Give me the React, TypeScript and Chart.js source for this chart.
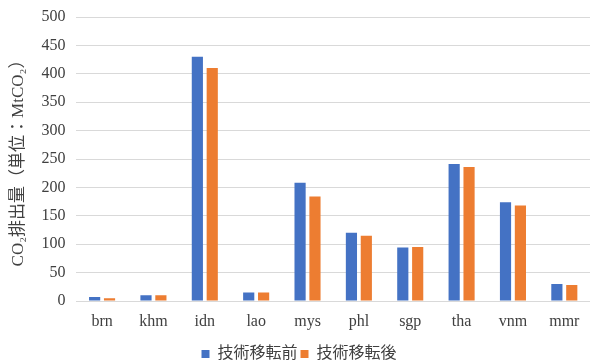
import React, { useEffect, useRef } from "react";
import { Chart, registerables } from "chart.js";

Chart.register(...registerables);

const categories = ["brn", "khm", "idn", "lao", "mys", "phl", "sgp", "tha", "vnm", "mmr"];
const beforeTransfer = [7, 10, 430, 15, 208, 120, 94, 241, 174, 30];
const afterTransfer = [5, 10, 410, 15, 184, 115, 95, 236, 168, 28];
const seriesNames = ["技術移転前", "技術移転後"];
const yTitle = "CO₂排出量（単位：MtCO₂）";

const FONT = "'Liberation Serif', 'Times New Roman', 'Noto Sans CJK JP', serif";

export default function App() {
  const ref = useRef<HTMLCanvasElement | null>(null);
  useEffect(() => {
    document.body.style.margin = "0";
    const ctx = ref.current!;
    const chart = new Chart(ctx, {
      type: "bar",
      data: {
        labels: categories,
        datasets: [
          {
            label: seriesNames[0],
            data: beforeTransfer,
            backgroundColor: "#4472C4",
            barPercentage: 0.75,
            categoryPercentage: 0.58,
          },
          {
            label: seriesNames[1],
            data: afterTransfer,
            backgroundColor: "#ED7D31",
            barPercentage: 0.75,
            categoryPercentage: 0.58,
          },
        ],
      },
      options: {
        animation: false,
        responsive: false,
        maintainAspectRatio: false,
        layout: { padding: { top: 17, right: 5, left: 8, bottom: -9 } },
        plugins: {
          tooltip: { enabled: false },
          legend: {
            position: "bottom",
            labels: {
              boxWidth: 8,
              boxHeight: 8,
              padding: 3,
              color: "#404040",
              font: { family: FONT, size: 16 },
            },
          },
        },
        scales: {
          x: {
            grid: { display: false, drawTicks: false },
            border: { display: false },
            ticks: { color: "#404040", font: { family: FONT, size: 16 }, padding: 11 },
            afterFit: (scale: any) => {
              scale.height = 42;
            },
          },
          y: {
            min: 0,
            max: 500,
            grid: { color: "#d9d9d9", drawTicks: false },
            border: { display: false },
            ticks: { stepSize: 50, color: "#404040", font: { family: FONT, size: 16 }, padding: 11 },
            afterFit: (scale: any) => {
              scale.paddingTop = 0;
              scale.paddingBottom = 0;
            },
            title: {
              display: true,
              text: yTitle,
              color: "#404040",
              font: { family: FONT, size: 17 },
              padding: { top: 0, bottom: 2 },
            },
          },
        },
      },
    });
    return () => chart.destroy();
  }, []);
  return (
    <div style={{ position: "absolute", left: 0, top: 0, width: 595, height: 363 }}>
      <canvas ref={ref} width={595} height={363} />
    </div>
  );
}
